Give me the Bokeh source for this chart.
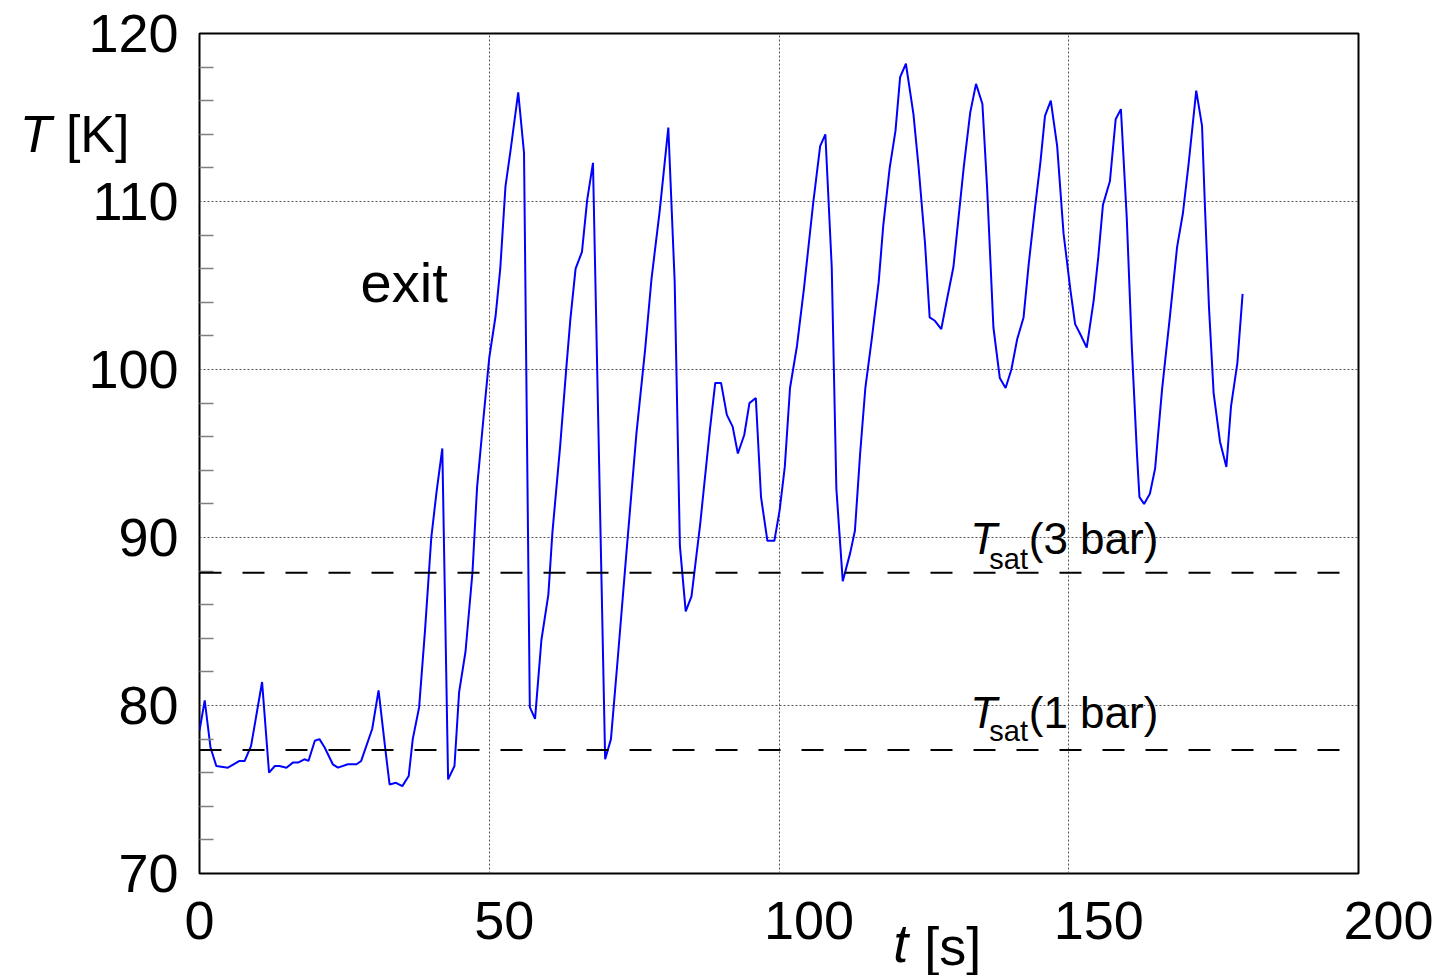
from bokeh.plotting import figure
from bokeh.models import Range1d, LinearAxis, FixedTicker, Span, Label
from bokeh.embed import file_html
from bokeh.resources import INLINE

# ---- data ----
t_s = [0.0, 0.9, 1.9, 2.9, 4.9, 6.9, 7.8, 8.9, 10.8, 12.0, 13.0, 13.8, 15.0,
       16.1, 17.0, 18.1, 18.8, 19.9, 20.7, 21.6, 23.0, 23.9, 25.6, 27.1, 27.9,
       29.8, 30.9, 32.0, 32.8, 33.9, 35.0, 36.1, 36.8, 37.9, 38.9, 40.0, 40.9,
       41.9, 42.9, 44.0, 44.8, 45.9, 47.1, 47.9, 49.0, 50.0, 51.1, 51.9, 52.8,
       53.7, 55.0, 56.0, 57.0, 57.9, 59.0, 60.2, 60.9, 62.2, 63.3, 64.0, 64.9,
       66.0, 66.9, 67.9, 70.0, 71.0, 72.2, 73.6, 75.4, 76.9, 78.0, 79.4, 80.9,
       82.0, 82.9, 83.9, 84.9, 86.4, 88.1, 89.0, 90.0, 91.0, 92.0, 92.9, 94.0,
       94.9, 96.0, 96.9, 98.0, 99.2, 100.1, 101.0, 101.9, 103.1, 104.3, 105.9,
       107.1, 108.0, 109.1, 109.9, 111.0, 112.3, 113.1, 114.0, 114.9, 116.0,
       117.2, 118.0, 119.1, 120.1, 120.9, 121.9, 123.2, 124.1, 125.2, 126.0,
       126.9, 128.0, 129.0, 130.1, 131.0, 131.9, 133.0, 134.0, 135.1, 135.9,
       137.0, 138.1, 139.1, 140.1, 141.1, 142.2, 143.1, 144.2, 145.1, 145.9,
       146.9, 148.0, 149.1, 150.3, 151.1, 152.0, 153.1, 154.3, 155.1, 155.9,
       157.1, 158.1, 159.0, 160.0, 160.9, 161.8, 162.2, 163.0, 164.0, 164.9,
       166.1, 167.5, 168.7, 169.7, 170.7, 172.0, 173.0, 173.5, 174.2, 175.0,
       176.1, 177.2, 178.0, 179.1, 180.0]
T_K = [78.5, 80.3, 77.5, 76.4, 76.3, 76.7, 76.7, 77.6, 81.4, 76.0, 76.4, 76.4, 76.3,
       76.6, 76.6, 76.8, 76.7, 77.9, 78.0, 77.5, 76.5, 76.3, 76.5, 76.5, 76.7,
       78.6, 80.9, 77.6, 75.3, 75.4, 75.2, 75.8, 78.0, 79.9, 84.4, 90.0, 92.7,
       95.3, 75.6, 76.4, 80.8, 83.2, 87.9, 93.0, 97.1, 100.7, 103.2, 106.0, 110.9,
       113.1, 116.5, 112.9, 79.9, 79.2, 83.9, 86.6, 90.3, 95.3, 100.1, 103.0, 106.0,
       107.0, 110.1, 112.3, 76.8, 78.0, 82.9, 88.8, 96.2, 101.2, 105.4, 109.4, 114.4,
       105.2, 89.5, 85.6, 86.5, 90.8, 96.5, 99.2, 99.2, 97.3, 96.6, 95.0, 96.1,
       98.0, 98.3, 92.4, 89.8, 89.8, 91.6, 94.2, 98.9, 101.4, 104.8, 109.9,
       113.3, 114.0, 106.1, 92.9, 87.4, 89.1, 90.4, 95.0, 98.9, 101.8,
       105.2, 108.6, 112.0, 114.2, 117.4, 118.2, 115.2, 112.0, 107.5, 103.1,
       102.9, 102.4, 104.2, 106.1, 109.1, 112.1, 115.3, 117.0, 115.8, 110.9,
       102.5, 99.5, 98.9, 100.0, 101.8, 103.1, 106.3, 109.7, 112.3, 115.1,
       116.0, 113.3, 108.1, 104.7, 102.7, 102.1, 101.3, 104.1, 106.7, 109.8,
       111.2, 114.9, 115.5, 109.1, 101.2, 94.8, 92.4, 92.0, 92.6, 94.1,
       98.8, 103.3, 107.3, 109.3, 112.3, 116.6, 114.5, 109.7, 103.7, 98.6,
       95.7, 94.2, 97.8, 100.4, 104.5]
T_sat_3bar = 87.9
T_sat_1bar = 77.35
x_ticks = [0, 50, 100, 150, 200]
y_ticks = [70, 80, 90, 100, 110, 120]
y_minor = [v for v in range(72, 120, 2) if v % 10 != 0]
FS = "\u2007"  # figure space, shifts the centred tick label to the right
x_tick_text = {0: "0", 50: FS + "50", 100: FS * 2 + "100",
               150: FS * 2 + "150", 200: FS * 2 + "200"}

FONT = "Liberation Sans"

p = figure(frame_width=1159, frame_height=840,
           x_range=Range1d(0, 200), y_range=Range1d(70, 120),
           output_backend="svg", toolbar_location=None,
           min_border_left=199, min_border_right=84,
           min_border_top=33, min_border_bottom=90)
p.background_fill_color = "white"
p.border_fill_color = "white"
p.outline_line_color = "black"
p.outline_line_width = 2

# x axis
p.xaxis.ticker = FixedTicker(ticks=x_ticks, minor_ticks=[])
p.xgrid.ticker = FixedTicker(ticks=x_ticks)
p.xaxis.major_label_overrides = x_tick_text
p.xaxis.axis_line_color = None
p.xaxis.major_tick_line_color = None
p.xaxis.minor_tick_line_color = None
p.xaxis.major_label_text_font = FONT
p.xaxis.major_label_text_font_size = "54px"
p.xaxis.major_label_text_color = "black"
p.xaxis.major_label_standoff = 10

# y axis
p.yaxis.ticker = FixedTicker(ticks=y_ticks, minor_ticks=y_minor)
p.ygrid.ticker = FixedTicker(ticks=y_ticks)
p.yaxis.axis_line_color = None
p.yaxis.major_tick_line_color = None
p.yaxis.minor_tick_in = 14
p.yaxis.minor_tick_out = 0
p.yaxis.minor_tick_line_color = "#808080"
p.yaxis.minor_tick_line_width = 1.5
p.yaxis.major_label_text_font = FONT
p.yaxis.major_label_text_font_size = "54px"
p.yaxis.major_label_text_color = "black"
p.yaxis.major_label_standoff = 15

# grid
p.grid.grid_line_color = "#555555"
p.grid.grid_line_dash = "2 2"
p.grid.grid_line_width = 1

# axis titles: extra single-tick axes stacked outside the main axes
def title_axis(side, tick, text, style, size, standoff):
    ax = LinearAxis(ticker=FixedTicker(ticks=[tick], minor_ticks=[]),
                    major_label_overrides={tick: text},
                    axis_line_color=None, major_tick_line_color=None,
                    minor_tick_line_color=None,
                    major_tick_in=0, major_tick_out=0,
                    minor_tick_in=0, minor_tick_out=0,
                    major_label_standoff=standoff,
                    major_label_text_font=FONT,
                    major_label_text_font_size=size,
                    major_label_text_font_style=style,
                    major_label_text_color="black")
    p.add_layout(ax, side)

title_axis("left", 114, "[K]", "normal", "52px", -44)
title_axis("left", 114, "T", "italic", "52px", 11)
title_axis("below", 121, "t", "italic", "54px", -40)
title_axis("below", 130, "[s]", "normal", "54px", -60)

# saturation lines
for loc in (T_sat_3bar, T_sat_1bar):
    p.add_layout(Span(location=loc, dimension="width", line_color="black",
                      line_width=2, line_dash="22 21"))

# measured exit temperature
p.line(t_s, T_K, line_color="#0000ff", line_width=2)

def lab(x, y, text, size, style="normal"):
    p.add_layout(Label(x=x, y=y, text=text, text_font=FONT,
                       text_font_size=size, text_font_style=style,
                       text_color="black", text_baseline="middle",
                       text_align="left"))

lab(27.8, 105.16, "exit", "56px")
lab(133.0, 89.95, "T", "44px", "italic")
lab(136.3, 88.75, "sat", "29px")
lab(143.1, 89.95, "(3 bar)", "44px")
lab(133.0, 79.60, "T", "44px", "italic")
lab(136.3, 78.51, "sat", "29px")
lab(143.1, 79.60, "(1 bar)", "44px")

open("out.html", "w").write(file_html(p, INLINE))
